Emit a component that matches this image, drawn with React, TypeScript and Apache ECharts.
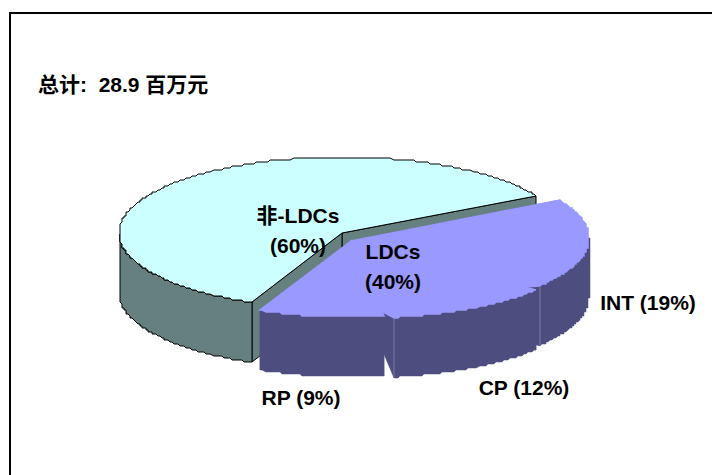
import React, { useEffect, useRef } from "react";
import * as echarts from "echarts";

const categories = ["非-LDCs", "RP", "CP", "INT"];
const shares = [60, 9, 12, 19];
const groupLabels = ["非-LDCs\n(60%)", "LDCs\n(40%)"];
const sliceLabels = ["RP (9%)", "CP (12%)", "INT (19%)"];
const totalLabel = "总计:  28.9 百万元";

const FONT = '"Liberation Sans", Arial, "Noto Sans CJK SC", sans-serif';
const CX = 342, CY = 233, RX = 223, RY = 76, DEPTH = 60, START = 30, SNAP = 2;
const OFFSETS = [[0, 0], [9, 8], [20, 9], [24, 5]];
const COLORS: any[] = [
  { top: "#CCFFFF", wall: "#668080", stroke: "#000000" },
  { top: "#9999FF", wall: "#4D4D80", stroke: null },
  { top: "#9999FF", wall: "#4D4D80", stroke: null },
  { top: "#9999FF", wall: "#4D4D80", stroke: null },
];

const snap = (v: number) => Math.round(v / SNAP) * SNAP;

function arcPoints(cx: number, cy: number, a0: number, a1: number, dy = 0) {
  const pts: number[][] = [];
  const n = Math.ceil(Math.abs(a1 - a0) * 1.5);
  for (let i = 0; i <= n; i++) {
    const a = ((a0 + ((a1 - a0) * i) / n) * Math.PI) / 180;
    pts.push([snap(cx + RX * Math.cos(a)), snap(cy - RY * Math.sin(a)) + dy]);
  }
  return pts;
}

const makeRender = (part: "body" | "tops") => (params: any, api: any) => {
  const i = params.dataIndex;
  const v = api.value(0);
  const before = shares.slice(0, i).reduce((s, x) => s + x, 0);
  const a0 = START + (before / 100) * 360;
  const a1 = a0 + (v / 100) * 360;
  const [ox, oy] = OFFSETS[i];
  const cx = CX + ox, cy = CY + oy;
  const c = COLORS[i];
  const poly = (points: number[][], fill: string, width = 0.5) => ({
    type: "polygon",
    shape: { points },
    style: { fill, stroke: c.stroke ?? fill, lineWidth: c.stroke ? 1 : width },
  });
  const children: any[] = [];
  const arc = arcPoints(cx, cy, a0, a1);
  const first = arc[0], last = arc[arc.length - 1];
  const down = (p: number[]) => [p[0], p[1] + DEPTH];
  const apex = [cx, cy];

  if (part === "body") {
    // radial cut walls first, then the rim facing the viewer (180..360 degrees)
    children.push(poly([apex, first, down(first), down(apex)], c.wall));
    children.push(poly([apex, last, down(last), down(apex)], c.wall));
    const rimFrom = Math.max(a0, 180), rimTo = Math.min(a1, 360);
    if (rimTo > rimFrom) {
      const top = arcPoints(cx, cy, rimFrom, rimTo);
      const bottom = arcPoints(cx, cy, rimFrom, rimTo, DEPTH).reverse();
      children.push(poly([...top, ...bottom], c.wall));
    }
    if (i === 0) children.push(poly([apex, ...arc], c.top));
  } else if (i > 0) {
    // exploded slices share one apex so their top faces read as a single surface
    const sharedApex = [CX + OFFSETS[1][0], CY + OFFSETS[1][1]];
    const points = [sharedApex];
    if (i > 1) {
      const [px, py] = OFFSETS[i - 1];
      const prev = arcPoints(CX + px, CY + py, a0 - 0.5, a0)[1];
      points.push([
        sharedApex[0] + (prev[0] - sharedApex[0]) * 0.94,
        sharedApex[1] + (prev[1] - sharedApex[1]) * 0.94,
      ]);
    }
    children.push(poly([...points, ...arc], c.top, 1.5));
    // thin lighter seam where two exploded rims meet
    if (i > 1) {
      children.push({
        type: "line",
        shape: { x1: first[0], y1: first[1], x2: first[0], y2: first[1] + DEPTH },
        style: { stroke: "#7A7AA6", lineWidth: 1 },
      });
    }
  }
  return { type: "group", children };
};

export default function App() {
  const ref = useRef<HTMLDivElement>(null);
  useEffect(() => {
    document.body.style.margin = "0";
    const chart = echarts.init(ref.current!, null, { renderer: "svg" });
    const text = (t: string, x: number, y: number, align = "center") => ({
      type: "text", x, y, z: 10,
      style: { text: t, x: 0, y: 0, fill: "#000", font: `bold 21px ${FONT}`, align, verticalAlign: "middle", lineHeight: 30 },
    });
    const data = categories.map((name, i) => ({ name, value: [shares[i]] }));
    chart.setOption({
      animation: false,
      backgroundColor: "#fff",
      graphic: [
        { type: "line", shape: { x1: 10, y1: 13, x2: 712, y2: 13 }, style: { stroke: "#000", lineWidth: 2 }, z: 9 },
        { type: "line", shape: { x1: 10, y1: 12, x2: 10, y2: 475 }, style: { stroke: "#000", lineWidth: 2 }, z: 9 },
        text(totalLabel, 38, 84, "left"),
        text(groupLabels[0], 298, 230),
        text(groupLabels[1], 393, 266),
        text(sliceLabels[0], 301, 397),
        text(sliceLabels[1], 524, 387),
        text(sliceLabels[2], 648, 302),
      ],
      series: [
        { type: "custom", coordinateSystem: "none", renderItem: makeRender("body"), silent: true, z: 2, data },
        { type: "custom", coordinateSystem: "none", renderItem: makeRender("tops"), silent: true, z: 3, data },
      ],
    });
    return () => chart.dispose();
  }, []);
  return <div ref={ref} style={{ width: 712, height: 475 }} />;
}
